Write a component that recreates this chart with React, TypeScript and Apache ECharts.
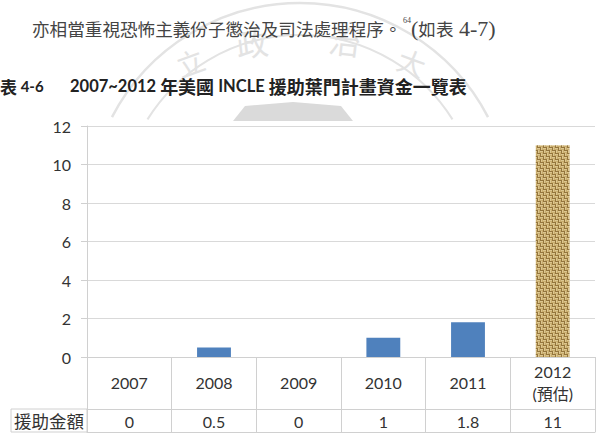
import React, { useEffect, useRef } from 'react';
import * as echarts from 'echarts';

// ---- data ----
const categories = ['2007', '2008', '2009', '2010', '2011', '2012\n(預估)'];
const values = [0, 0.5, 0, 1, 1.8, 11];
const valueLabels = ['0', '0.5', '0', '1', '1.8', '11'];
const yMin = 0;
const yMax = 12;
const yInterval = 2;
const rowLabel = '援助金額';
const tableNo = '表 4-6';
const titleParts = ['2007~2012 ', '年美國', ' INCLE ', '援助葉門計畫資金一覽表'];
const bodyText = '亦相當重視恐怖主義份子懲治及司法處理程序。';
const footNo = '64';
const refText = ['(', '如表', ' 4-7)'];

const LATIN = "Lato, 'Noto Sans CJK TC', sans-serif";
const CJK = "'Noto Sans CJK TC', sans-serif";
const SERIF = "'Liberation Serif', 'Noto Sans CJK TC', serif";

function makeBurlap(): HTMLCanvasElement {
  const c = document.createElement('canvas');
  c.width = 6;
  c.height = 6;
  const ctx = c.getContext('2d')!;
  const shades = ['#94753C', '#DCC690', '#C9AD6E'];
  for (let y = 0; y < 6; y++) {
    for (let x = 0; x < 6; x++) {
      const block = (Math.floor(x / 3) + Math.floor(y / 3)) % 2;
      const inner = block === 0 ? y % 3 : x % 3;
      ctx.fillStyle = shades[inner];
      ctx.fillRect(x, y, 1, 1);
    }
  }
  return c;
}

export default function App() {
  const ref = useRef<HTMLDivElement>(null);
  useEffect(() => {
    if (!ref.current) return;
    const chart = echarts.init(ref.current, undefined, { renderer: 'svg' });
    const burlap = makeBurlap();
    const wm = '#e3e3e3';
    const cx = 300, cy = 215;
    const option: any = {
      animation: false,
      backgroundColor: '#ffffff',
      grid: { left: 87, right: 11, top: 126, bottom: 85, containLabel: false },
      xAxis: [
        {
          type: 'category',
          data: categories,
          position: 'bottom',
          axisLine: { show: true, lineStyle: { color: '#d0d0d0', width: 1 } },
          axisTick: { show: true, length: 75, lineStyle: { color: '#d0d0d0' } },
          axisLabel: {
            margin: 25,
            verticalAlign: 'middle',
            lineHeight: 22,
            fontSize: 16,
            color: '#333',
            fontFamily: LATIN,
            interval: 0,
          },
        },
        {
          type: 'category',
          data: valueLabels,
          position: 'bottom',
          offset: 52,
          axisLine: { show: true, lineStyle: { color: '#d0d0d0', width: 1 } },
          axisTick: { show: false },
          axisLabel: {
            margin: 12,
            verticalAlign: 'middle',
            fontSize: 16,
            color: '#333',
            fontFamily: LATIN,
            interval: 0,
          },
        },
        {
          type: 'category',
          data: valueLabels,
          position: 'bottom',
          offset: 75,
          axisLine: { show: true, lineStyle: { color: '#d0d0d0', width: 1 } },
          axisTick: { show: false },
          axisLabel: { show: false },
        },
      ],
      yAxis: {
        type: 'value',
        min: yMin,
        max: yMax,
        interval: yInterval,
        axisLine: { show: true, lineStyle: { color: '#d0d0d0' } },
        axisTick: { show: true, length: 6, lineStyle: { color: '#d0d0d0' } },
        splitLine: { show: true, lineStyle: { color: '#d9d9d9' } },
        axisLabel: { margin: 16, fontSize: 16, color: '#333', fontFamily: LATIN },
      },
      series: [
        {
          type: 'bar',
          xAxisIndex: 0,
          barWidth: '40%',
          data: values.map((v, i) =>
            i === values.length - 1
              ? { value: v, itemStyle: { color: { image: burlap, repeat: 'repeat' } } }
              : { value: v }
          ),
          itemStyle: { color: '#4F81BD' },
        },
      ],
      graphic: [
        // faint watermark (seal) behind the page text
        {
          type: 'arc',
          silent: true,
          shape: { cx, cy, r: 212, startAngle: Math.PI + 0.48, endAngle: 2 * Math.PI - 0.48 },
          style: { stroke: wm, lineWidth: 2.5, fill: null },
        },
        {
          type: 'arc',
          silent: true,
          shape: { cx, cy, r: 180, startAngle: Math.PI + 0.56, endAngle: 2 * Math.PI - 0.56 },
          style: { stroke: wm, lineWidth: 2, fill: null },
        },
        {
          type: 'polygon',
          silent: true,
          shape: { points: [[233, 121], [245, 106], [293, 102], [341, 106], [353, 121]] },
          style: { fill: '#dadada' },
        },
        { type: 'text', silent: true, x: 190, y: 62, rotation: 0.35, style: { text: '立', font: `28px ${CJK}`, fill: wm, align: 'center', verticalAlign: 'middle' } },
        { type: 'text', silent: true, x: 252, y: 42, rotation: 0.12, style: { text: '政', font: `32px ${CJK}`, fill: wm, align: 'center', verticalAlign: 'middle' } },
        { type: 'text', silent: true, x: 345, y: 40, rotation: -0.12, style: { text: '治', font: `32px ${CJK}`, fill: wm, align: 'center', verticalAlign: 'middle' } },
        { type: 'text', silent: true, x: 412, y: 62, rotation: -0.35, style: { text: '大', font: `28px ${CJK}`, fill: wm, align: 'center', verticalAlign: 'middle' } },
        // body text line
        {
          type: 'text',
          x: 32,
          y: 28,
          style: { text: bodyText, font: `17.6px ${CJK}`, fill: '#444', verticalAlign: 'middle' },
        },
        {
          type: 'text',
          x: 403,
          y: 20,
          style: { text: footNo, font: `8px ${SERIF}`, fill: '#444', verticalAlign: 'middle' },
        },
        {
          type: 'text',
          x: 411,
          y: 28,
          style: {
            text: `{s|${refText[0]}}{c|${refText[1]}}{s|${refText[2]}}`,
            verticalAlign: 'middle',
            rich: {
              s: { fontFamily: SERIF, fontSize: 22, fill: '#444' },
              c: { fontFamily: CJK, fontSize: 17.6, fill: '#444' },
            },
          },
        },
        // table title
        {
          type: 'text',
          x: 0,
          y: 86,
          style: {
            text: `{c|${tableNo.slice(0, 1)}}{l|${tableNo.slice(1)}}`,
            verticalAlign: 'middle',
            rich: {
              c: { fontFamily: CJK, fontSize: 17, fontWeight: 'bold', fill: '#222' },
              l: { fontFamily: LATIN, fontSize: 15, fontWeight: 'bold', fill: '#222' },
            },
          },
        },
        {
          type: 'text',
          x: 70,
          y: 86,
          style: {
            text: `{l|${titleParts[0]}}{c|${titleParts[1]}}{l|${titleParts[2]}}{c|${titleParts[3]}}`,
            verticalAlign: 'middle',
            rich: {
              c: { fontFamily: CJK, fontSize: 18, fontWeight: 'bold', fill: '#222' },
              l: { fontFamily: LATIN, fontSize: 16.5, fontWeight: 'bold', fill: '#222' },
            },
          },
        },
        // row header cell of the data table
        {
          type: 'rect',
          shape: { x: 11, y: 409, width: 76, height: 23 },
          style: { fill: null, stroke: '#d0d0d0', lineWidth: 1 },
        },
        {
          type: 'text',
          x: 49,
          y: 420,
          style: { text: rowLabel, font: `17.5px ${CJK}`, fill: '#333', align: 'center', verticalAlign: 'middle' },
        },
      ],
    };
    chart.setOption(option);
    return () => chart.dispose();
  }, []);
  return (
    <div
      ref={ref}
      style={{ position: 'absolute', left: 0, top: 0, width: 606, height: 442 }}
    />
  );
}
